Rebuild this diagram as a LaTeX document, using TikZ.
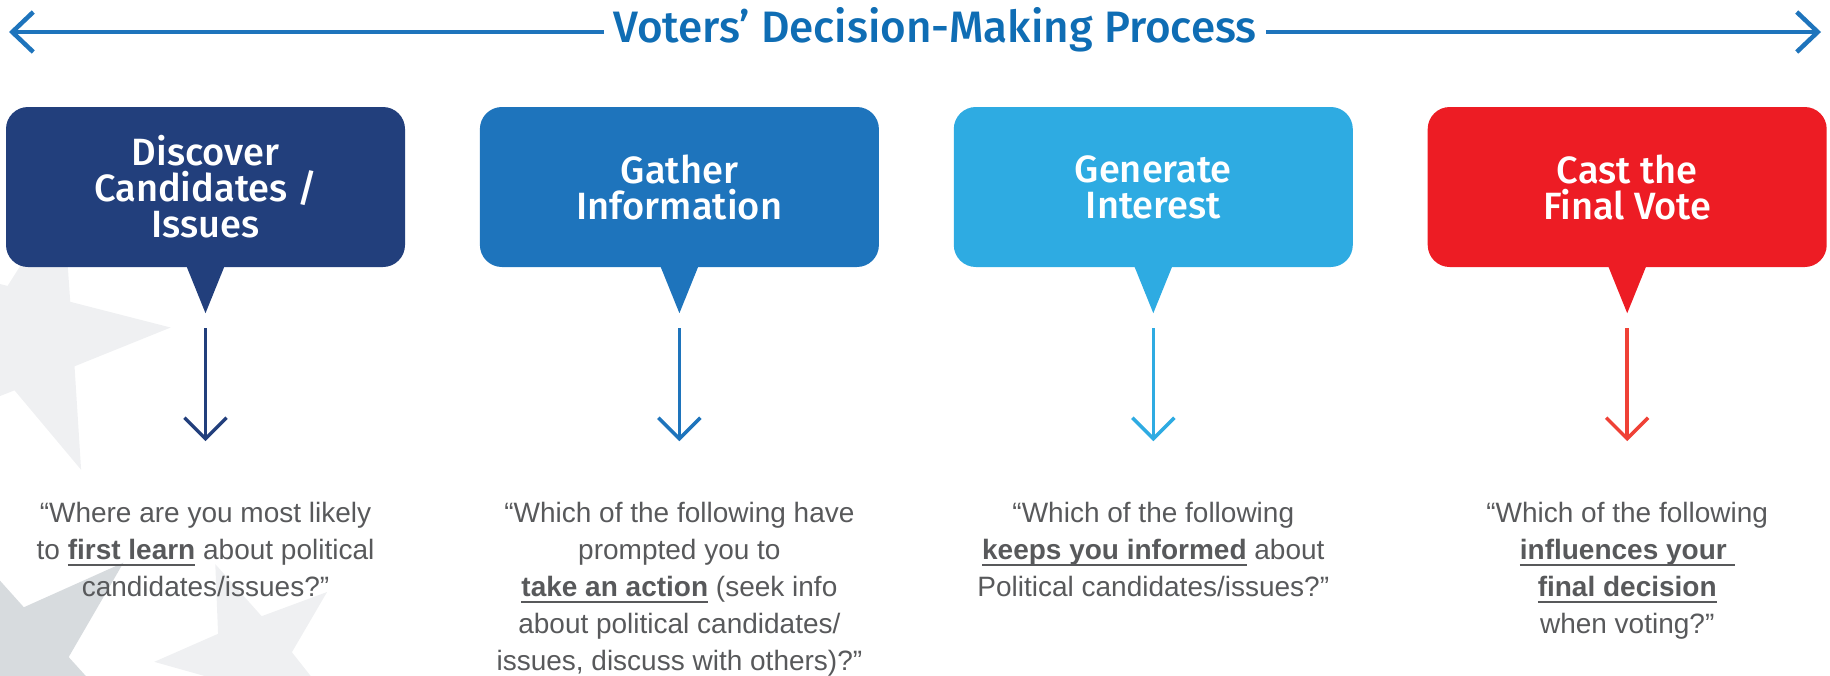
\documentclass[tikz,border=0pt]{standalone}
\usepackage{fontspec}
\setmainfont{Liberation Sans}
\IfFontExistsTF{Fira Sans Medium}
	{\newfontfamily\headfont{Fira Sans Medium}}
	{\newfontfamily\headfont[FakeBold=1.2]{Fira Sans}}
\usetikzlibrary{positioning}
\usetikzlibrary{arrows.meta}
\definecolor{navy}{HTML}{223F7C}
\definecolor{midblue}{HTML}{1E74BC}
\definecolor{skyblue}{HTML}{2EABE2}
\definecolor{votered}{HTML}{ED1C24}
\definecolor{arrowred}{HTML}{EF4136}
\definecolor{titleblue}{HTML}{0F6DB4}
\definecolor{textgray}{HTML}{58595B}
\definecolor{starlight}{HTML}{EFF0F2}
\definecolor{stardark}{HTML}{D7DBDE}
\lineskiplimit=-40pt
% bold words with a line under them
\newcommand\qline[1]{\setbox0\hbox{#1}\rlap{\rule[-6.5pt]{\wd0}{2.2pt}}\box0\relax}
% colour, centre x, centre y, outer radius, inner radius, angle of first tip
\newcommand\bgstar[6]{\fill[#1] plot[samples at={0,...,9}, variable=\k]
	({#2+(mod(\k,2)==0?#4:#5)*cos(#6+36*\k)}, {#3-(mod(\k,2)==0?#4:#5)*sin(#6+36*\k)}) -- cycle;}
\tikzset{
	stagebox/.style={
		rectangle,
		rounded corners=22pt,
		fill=#1,
		text=white,
		minimum width=399pt,
		minimum height=160pt,
		align=center,
		font=\headfont\fontsize{38}{36}\selectfont},
	question/.style={
		inner sep=0pt,
		align=center,
		text=textgray,
		font=\fontsize{28}{37}\selectfont},
	down/.style={draw=#1, line width=3.5pt, -{Straight Barb[length=21pt,width=42pt]},
		shorten <=61pt, shorten >=61pt},
	timeline/.style={draw=midblue, line width=4.5pt, -{Straight Barb[length=21pt,width=40pt]}},
}

\begin{document}
\begin{tikzpicture}[x=1pt, y=-1pt, node distance=74.5pt]
	\useasboundingbox (0,0) rectangle (1830,675);
	% stars behind the first column
	\begin{scope}
		\clip (0,0) rectangle (1830,675);
		\bgstar{starlight}{28}{337}{143}{55}{3.8}
		\bgstar{stardark}{12}{663}{150}{57}{42}
		\bgstar{starlight}{252}{655}{98}{40}{112}
	\end{scope}
	
	\node[font=\headfont\fontsize{44}{48}\selectfont, text=titleblue, inner xsep=9pt, anchor=base] (title) at (935,42) {Voters’ Decision-Making Process};
	\coordinate (lend) at (9,32);
	\coordinate (rend) at (1821,32);
	\draw[timeline] (title.west |- lend) -- (lend);
	\draw[timeline] (title.east |- rend) -- (rend);
	
	\node[stagebox=navy] (disc) at (205.5,187) {Discover\\Candidates /\\Issues};
	\node[stagebox=midblue, right=of disc] (gath) {Gather\\Information};
	\node[stagebox=skyblue, right=of gath] (intr) {Generate\\Interest};
	\node[stagebox=votered, right=of intr] (vote) {Cast the\\Final Vote};
	\foreach \b/\c in {disc/navy, gath/midblue, intr/skyblue, vote/votered}
		\fill[\c] ([xshift=-19pt,yshift=1pt]\b.south) -- ([xshift=19pt,yshift=1pt]\b.south) -- ([yshift=-46pt]\b.south) -- cycle;
	
	\node[question, below=235pt of disc] (qdisc) {“Where are you most likely\\to \qline{\textbf{first learn}} about political\\candidates/issues?”};
	\node[question, below=235pt of gath] (qgath) {“Which of the following have\\prompted you to\\\qline{\textbf{take an action}} (seek info\\about political candidates/\\issues, discuss with others)?”};
	\node[question, below=235pt of intr] (qintr) {“Which of the following\\\qline{\textbf{keeps you informed}} about\\Political candidates/issues?”};
	\node[question, below=235pt of vote] (qvote) {“Which of the following\\\qline{\textbf{influences your\ }}\\\qline{\textbf{final decision}}\\when voting?”};
	
	\draw[down=navy] (disc.south) -- (qdisc.north);
	\draw[down=midblue] (gath.south) -- (qgath.north);
	\draw[down=skyblue] (intr.south) -- (qintr.north);
	\draw[down=arrowred] (vote.south) -- (qvote.north);
\end{tikzpicture}
\end{document}
